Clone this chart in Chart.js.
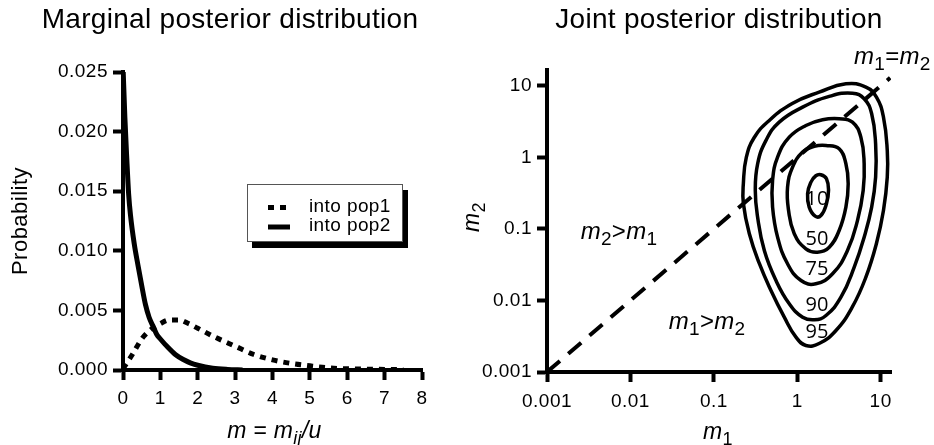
<!DOCTYPE html>
<html><head><meta charset="utf-8">
<script src="https://cdn.jsdelivr.net/npm/chart.js@4.4.1/dist/chart.umd.min.js"></script>
<style>
html,body{margin:0;padding:0;background:#fff;}
#wrap{position:relative;width:934px;height:445px;overflow:hidden;background:#fff;}
canvas{position:absolute;left:0;top:0;width:934px;height:445px;}
</style></head><body>
<div id="wrap"><canvas id="left" width="934" height="445"></canvas><canvas id="right" width="934" height="445"></canvas></div>
<script>
// ---------- DATA ----------
const legendLabels = ['into pop1', 'into pop2'];
// into pop1 (dotted)
const pop1X = [0, 0.25, 0.5, 0.75, 1.0, 1.25, 1.5, 1.75, 2.0, 2.5, 3.0, 3.5, 4.0, 4.5, 5.0, 5.5, 6.0, 6.5, 7.0, 7.5];
const pop1Y = [0.0001, 0.0013, 0.0026, 0.0034, 0.0039, 0.0042, 0.0042, 0.0039, 0.0035, 0.0027, 0.0020, 0.0013, 0.00085, 0.00055, 0.00035, 0.00018, 0.0001, 0.00007, 0.00005, 0.00004];
// into pop2 (solid)
const pop2X = [0, 0.05, 0.1, 0.15, 0.2, 0.3, 0.4, 0.5, 0.6, 0.7, 0.8, 0.9, 1.0, 1.2, 1.4, 1.6, 1.8, 2.0, 2.4, 2.8, 3.2];
const pop2Y = [0.0255, 0.0212, 0.0178, 0.0148, 0.0130, 0.0106, 0.0088, 0.0071, 0.0055, 0.0044, 0.0037, 0.0030, 0.0026, 0.0019, 0.0013, 0.0009, 0.0006, 0.0004, 0.00015, 0.00005, 0.00001];
const leftXTicks = [0, 1, 2, 3, 4, 5, 6, 7, 8];
const leftYTicks = [0, 0.005, 0.010, 0.015, 0.020, 0.025];

// joint posterior: contours as [m1, m2]
const contour95 = [[3.83,10.7],[6.65,9.62],[8.9,6.97],[10.8,3.66],[12.0,1.25],[12.0,0.53],[10.8,0.181],[8.9,0.0627],[6.65,0.0212],[4.56,0.00806],[2.91,0.0038],[1.83,0.0025],[1.27,0.00235],[0.965,0.00307],[0.699,0.00584],[0.484,0.0138],[0.351,0.0329],[0.266,0.0865],[0.226,0.227],[0.226,0.433],[0.245,1.0],[0.305,1.9],[0.462,3.29],[0.871,5.69],[1.83,8.19]];
const contour90 = [[4.59,7.93],[6.34,6.62],[7.8,4.08],[8.7,1.55],[8.7,0.53],[7.8,0.202],[6.34,0.0768],[4.82,0.0292],[3.34,0.0111],[2.21,0.00617],[1.6,0.00537],[1.16,0.00584],[0.802,0.009],[0.556,0.019],[0.403,0.05],[0.335,0.146],[0.314,0.345],[0.335,0.816],[0.422,1.73],[0.608,3.12],[1.16,5.05],[2.42,7.13]];
const contour75 = [[3.18,3.48],[4.59,3.12],[5.79,1.92],[6.34,0.816],[6.17,0.345],[5.27,0.131],[4.0,0.05],[2.65,0.0236],[1.67,0.0171],[1.11,0.019],[0.765,0.0326],[0.581,0.0768],[0.506,0.202],[0.506,0.477],[0.581,1.01],[0.802,1.92],[1.27,2.8],[2.01,3.37]];
const contour50 = [[2.21,1.47],[3.18,1.32],[3.83,0.816],[4.08,0.429],[3.83,0.202],[3.18,0.0953],[2.42,0.0557],[1.75,0.0474],[1.27,0.0528],[0.921,0.0857],[0.787,0.181],[0.765,0.384],[0.879,0.732],[1.16,1.19],[1.6,1.43]];
const contour10 = [[1.92,0.573],[2.24,0.504],[2.37,0.345],[2.24,0.225],[1.92,0.154],[1.64,0.151],[1.39,0.202],[1.33,0.311],[1.46,0.452],[1.67,0.555]];
const contourLabels = ['10', '50', '75', '90', '95'];
const contourLabelM1 = [1.72, 1.72, 1.72, 1.72, 1.72];
const contourLabelM2 = [0.264, 0.071, 0.0276, 0.0085, 0.0036];
const diagonal = [0.001, 13];
const logTicks = [0.001, 0.01, 0.1, 1, 10];

// ---------- HELPERS ----------
const FAM = "'Liberation Sans', Arial, Helvetica, sans-serif";
function rich(ctx, segs, cx, baseY, size, rot, spacing) {
  ctx.save();
  ctx.letterSpacing = (spacing || 0) + 'px';
  const fontFor = s => (s.it ? 'italic ' : '') + (s.sub ? Math.round(size * 0.8) : size) + 'px ' + FAM;
  let total = 0;
  const ws = segs.map(s => { ctx.font = fontFor(s); const w = ctx.measureText(s.t).width; total += w; return w; });
  ctx.translate(cx, baseY);
  if (rot) ctx.rotate(rot);
  ctx.textAlign = 'left';
  ctx.textBaseline = 'alphabetic';
  ctx.fillStyle = '#000';
  let x = -total / 2;
  segs.forEach((s, i) => { ctx.font = fontFor(s); ctx.fillText(s.t, x, s.sub ? size * 0.27 : 0); x += ws[i]; });
  ctx.restore();
}
const spacingPlugin = { id: 'spacing', beforeDraw(chart) { chart.ctx.letterSpacing = '0.5px'; } };
const loopPlugin = {
  id: 'loop',
  afterDatasetsUpdate(chart) {
    chart.data.datasets.forEach((ds, i) => {
      if (!ds.closed) return;
      const el = chart.getDatasetMeta(i).dataset;
      if (el) { el._loop = true; el._fullLoop = true; delete el._segments; delete el._path; el._pointsUpdated = false; }
    });
  }
};
const axisGrid = { display: true, drawOnChartArea: false, drawTicks: true, tickLength: 10, tickWidth: 4, tickColor: '#000', color: '#000' };
const axisBorder = { display: true, color: '#000', width: 4 };
const tickFont = { family: FAM, size: 19 };

// ---------- LEFT CHART ----------
const leftText = {
  id: 'leftText',
  afterDraw(chart) {
    const ctx = chart.ctx;
    ctx.save();
    ctx.letterSpacing = '0.3px';
    ctx.font = '28px ' + FAM; ctx.fillStyle = '#000'; ctx.textAlign = 'center'; ctx.textBaseline = 'alphabetic';
    ctx.fillText('Marginal posterior distribution', 230, 28);
    ctx.restore();
    const xs = chart.scales.x;
    rich(ctx, [{t:'m',it:1},{t:' = '},{t:'m',it:1},{t:'ij',it:1,sub:1},{t:'/u',it:1}], (xs.left + xs.right) / 2 + 2, 438, 23, 0, 0.3);
    // legend
    const L = { x: 247, y: 184, w: 156, h: 58 };
    ctx.save();
    ctx.fillStyle = '#000'; ctx.fillRect(L.x + 5, L.y + 6, L.w, L.h);
    ctx.fillStyle = '#fff'; ctx.fillRect(L.x, L.y, L.w, L.h);
    ctx.strokeStyle = '#555'; ctx.lineWidth = 1; ctx.strokeRect(L.x + 0.5, L.y + 0.5, L.w - 1, L.h - 1);
    const rows = [207.5, 227];
    chart.data.datasets.forEach((ds, i) => {
      ctx.save();
      ctx.strokeStyle = ds.borderColor; ctx.lineWidth = ds.borderWidth; ctx.lineCap = 'butt';
      ctx.setLineDash(ds.borderDash || []);
      ctx.beginPath(); ctx.moveTo(268, rows[i]); ctx.lineTo(i === 0 ? 289 : 290, rows[i]); ctx.stroke();
      ctx.restore();
      ctx.font = '19px ' + FAM; ctx.letterSpacing = '0.4px'; ctx.fillStyle = '#000'; ctx.textAlign = 'left'; ctx.textBaseline = 'middle';
      ctx.fillText(ds.label, 309, rows[i] - 1);
    });
    ctx.restore();
  }
};
new Chart(document.getElementById('left'), {
  type: 'line',
  data: { datasets: [
    { label: legendLabels[0], data: pop1X.map((x, i) => ({ x, y: pop1Y[i] })), borderColor: '#000', borderWidth: 5, borderDash: [6, 6], borderCapStyle: 'butt', pointRadius: 0, cubicInterpolationMode: 'monotone', fill: false },
    { label: legendLabels[1], data: pop2X.map((x, i) => ({ x, y: pop2Y[i] })), borderColor: '#000', borderWidth: 5, pointRadius: 0, cubicInterpolationMode: 'monotone', fill: false }
  ]},
  options: {
    responsive: false, animation: false, devicePixelRatio: 1,
    layout: { padding: { left: 0, top: 72, right: 512, bottom: 0 } },
    plugins: { legend: { display: false }, tooltip: { enabled: false }, title: { display: false } },
    scales: {
      x: { type: 'linear', min: 0, max: 8,
        afterBuildTicks: s => { s.ticks = leftXTicks.map(v => ({ value: v })); },
        ticks: { font: tickFont, color: '#000', padding: 7, maxRotation: 0, callback: v => String(v) },
        grid: axisGrid, border: axisBorder, afterFit: s => { s.height = 75; } },
      y: { type: 'linear', min: 0, max: 0.025,
        afterBuildTicks: s => { s.ticks = leftYTicks.map(v => ({ value: v })); },
        ticks: { font: tickFont, color: '#000', padding: 5, callback: v => Number(v).toFixed(3) },
        grid: axisGrid, border: axisBorder,
        title: { display: true, text: 'Probability', color: '#000', font: { family: FAM, size: 22 }, padding: { top: 8, bottom: 0 } },
        afterFit: s => { s.width = 123; } }
    }
  },
  plugins: [spacingPlugin, leftText]
});

// ---------- RIGHT CHART ----------
const annotations = [
  { segs: [{t:'m',it:1},{t:'2',sub:1},{t:'>'},{t:'m',it:1},{t:'1',sub:1}], m1: 0.0073, m2: 0.0727 },
  { segs: [{t:'m',it:1},{t:'1',sub:1},{t:'>'},{t:'m',it:1},{t:'2',sub:1}], m1: 0.083, m2: 0.0040 },
  { segs: [{t:'m',it:1},{t:'1',sub:1},{t:'='},{t:'m',it:1},{t:'2',sub:1}], m1: 13.8, m2: 20.5 }
];
const rightText = {
  id: 'rightText',
  afterDraw(chart) {
    const ctx = chart.ctx, xs = chart.scales.x, ys = chart.scales.y;
    ctx.save();
    ctx.letterSpacing = '0.3px';
    ctx.font = '28px ' + FAM; ctx.fillStyle = '#000'; ctx.textAlign = 'center'; ctx.textBaseline = 'alphabetic';
    ctx.fillText('Joint posterior distribution', 719, 28);
    ctx.restore();
    rich(ctx, [{t:'m',it:1},{t:'1',sub:1}], 718, 439, 23, 0, 0.3);
    rich(ctx, [{t:'m',it:1},{t:'2',sub:1}], 479, 217, 23, -Math.PI / 2, 0.3);
    annotations.forEach(a => rich(ctx, a.segs, xs.getPixelForValue(a.m1), ys.getPixelForValue(a.m2), 24, 0, 0.3));
    ctx.save();
    ctx.letterSpacing = '0px';
    ctx.font = "20px 'Open Sans', 'DejaVu Sans', sans-serif"; ctx.fillStyle = '#000'; ctx.textAlign = 'center'; ctx.textBaseline = 'middle';
    contourLabels.forEach((t, i) => ctx.fillText(t, xs.getPixelForValue(contourLabelM1[i]), ys.getPixelForValue(contourLabelM2[i])));
    ctx.restore();
  }
};
const contourDs = arr => ({ data: arr.map(p => ({ x: p[0], y: p[1] })), closed: true, borderColor: '#000', borderWidth: 3.5, pointRadius: 0, tension: 0.45, fill: false });
new Chart(document.getElementById('right'), {
  type: 'line',
  data: { datasets: [
    { data: diagonal.map(v => ({ x: v, y: v })), borderColor: '#000', borderWidth: 4, borderDash: [17, 11], borderCapStyle: 'butt', pointRadius: 0, fill: false },
    contourDs(contour95), contourDs(contour90), contourDs(contour75), contourDs(contour50), contourDs(contour10)
  ]},
  options: {
    responsive: false, animation: false, devicePixelRatio: 1,
    layout: { padding: { left: 0, top: 70, right: 43, bottom: 0 } },
    plugins: { legend: { display: false }, tooltip: { enabled: false }, title: { display: false } },
    scales: {
      x: { type: 'logarithmic', min: 0.001, max: 13.3,
        afterBuildTicks: s => { s.ticks = logTicks.map(v => ({ value: v })); },
        ticks: { font: tickFont, color: '#000', padding: 8, maxRotation: 0, callback: v => String(v) },
        grid: axisGrid, border: axisBorder, afterFit: s => { s.height = 73; } },
      y: { type: 'logarithmic', min: 0.001, max: 16.7,
        afterBuildTicks: s => { s.ticks = logTicks.map(v => ({ value: v })); },
        ticks: { font: tickFont, color: '#000', padding: 5, callback: v => String(v) },
        grid: axisGrid, border: axisBorder, afterFit: s => { s.width = 547; } }
    }
  },
  plugins: [spacingPlugin, loopPlugin, rightText]
});
</script>
</body></html>
